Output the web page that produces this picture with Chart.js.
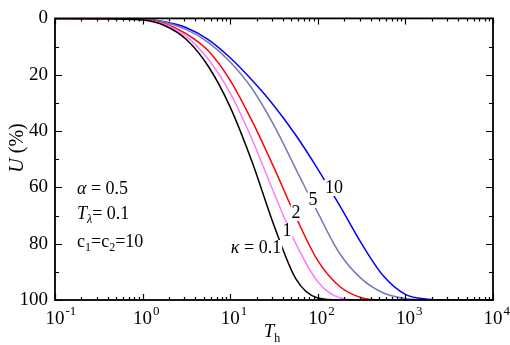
<!DOCTYPE html>
<html>
<head>
<meta charset="utf-8">
<script src="https://cdn.jsdelivr.net/npm/chart.js@4.4.1/dist/chart.umd.min.js"></script>
<style>
  body { margin: 0; background: #fff; }
</style>
</head>
<body>
<canvas id="myChart" width="510" height="345"></canvas>
<script>
// data block
const T = [0.1, 0.316, 1, 1.78, 3.16, 5.62, 10, 17.8, 31.6, 56.2, 100, 178, 316, 562, 1000, 1778, 3162, 10000];
const kappa01 = [0, 0.1, 0.6, 2.5, 7.5, 17, 31.5, 51, 73.5, 92.5, 99.3, 100, 100, 100, 100, 100, 100, 100];
const kappa1 = [0, 0.1, 0.5, 2.1, 6.5, 14.5, 26.5, 43, 62, 80, 93.5, 99.2, 100, 100, 100, 100, 100, 100];
const kappa2 = [0, 0.1, 0.4, 1.8, 5.5, 11.5, 22, 36.5, 53, 70.5, 86, 95.2, 99.2, 100, 100, 100, 100, 100];
const kappa5 = [0, 0.1, 0.3, 1.4, 4, 8.5, 15.5, 25, 38, 53.5, 69, 83.5, 92.5, 97.5, 99.5, 100, 100, 100];
const kappa10 = [0, 0.1, 0.3, 1.2, 3.3, 7.5, 14, 22, 31, 41.5, 53.5, 66.5, 80, 91.5, 98, 99.7, 100, 100];
const yTicks = [0, 20, 40, 60, 80, 100];
const xDecades = [-1, 0, 1, 2, 3, 4];

const serif = "'Liberation Serif', 'Times New Roman', serif";
const pts = arr => arr.map((v, i) => ({ x: T[i], y: v }));

const series = [
    { data: kappa01, color: '#000000' },
    { data: kappa1, color: '#ff78ff' },
    { data: kappa2, color: '#ff0000' },
    { data: kappa5, color: '#7777bb' },
    { data: kappa10, color: '#0000ff' }
];

// draws a row of text pieces, each with own font and vertical offset
function runs(ctx, x, y, parts, align) {
    let w = 0;
    parts.forEach(p => { ctx.font = p.f; w += ctx.measureText(p.t).width; });
    let cx = align === 'center' ? x - w / 2 : x;
    parts.forEach(p => {
        ctx.font = p.f;
        ctx.fillText(p.t, cx, y + (p.dy || 0));
        cx += ctx.measureText(p.t).width;
    });
    return w;
}

const decor = {
    id: 'decor',
    afterDatasetsDraw(chart) {
        const ctx = chart.ctx;
        ctx.save();
        ctx.textBaseline = 'middle';
        ctx.textAlign = 'left';
        // curve labels with white gaps
        const labs = [
            { parts: [{ t: 'κ', f: 'italic 18px ' + serif }, { t: ' = 0.1', f: '18px ' + serif }], x: 256, y: 248 },
            { parts: [{ t: '1', f: '18px ' + serif }], x: 287, y: 231 },
            { parts: [{ t: '2', f: '18px ' + serif }], x: 296, y: 213 },
            { parts: [{ t: '5', f: '18px ' + serif }], x: 313, y: 200 },
            { parts: [{ t: '10', f: '18px ' + serif }], x: 334, y: 188 }
        ];
        labs.forEach(l => {
            let w = 0;
            l.parts.forEach(p => { ctx.font = p.f; w += ctx.measureText(p.t).width; });
            ctx.fillStyle = '#fff';
            ctx.fillRect(l.x - w / 2 - 1, l.y - 8, w + 2, 16);
            ctx.fillStyle = '#000';
            runs(ctx, l.x, l.y, l.parts, 'center');
        });
        ctx.restore();
    },
    afterDraw(chart) {
        const ctx = chart.ctx;
        const a = chart.chartArea;
        const xs = chart.scales.x, ys = chart.scales.y;
        ctx.save();
        ctx.strokeStyle = '#000';
        ctx.fillStyle = '#000';
        // ticks
        ctx.lineWidth = 1.2;
        ctx.beginPath();
        xDecades.forEach(d => {
            for (let k = 1; k <= 9; k++) {
                if (d === 4 && k > 1) break;
                const px = Math.round(xs.getPixelForValue(k * Math.pow(10, d))) + 0.5;
                const len = k === 1 ? 6 : 3;
                ctx.moveTo(px, a.bottom); ctx.lineTo(px, a.bottom - len);
                ctx.moveTo(px, a.top); ctx.lineTo(px, a.top + len);
            }
        });
        for (let v = 0; v <= 100; v += 10) {
            const py = Math.round(ys.getPixelForValue(v)) + 0.5;
            const len = v % 20 === 0 ? 7 : 4;
            ctx.moveTo(a.left, py); ctx.lineTo(a.left + len, py);
            ctx.moveTo(a.right, py); ctx.lineTo(a.right - len, py);
        }
        ctx.stroke();
        // frame
        ctx.lineWidth = 1.8;
        ctx.strokeRect(a.left, a.top, a.right - a.left, a.bottom - a.top);

        // x tick labels 10^n
        ctx.textBaseline = 'alphabetic';
        ctx.textAlign = 'left';
        xDecades.forEach(d => {
            const px = xs.getPixelForValue(Math.pow(10, d));
            ctx.font = '19px ' + serif;
            const w10 = ctx.measureText('10').width;
            const ex = d < 0 ? '-' + (-d) : String(d);
            ctx.fillText('10', px - w10 / 2, 324);
            ctx.font = '13px ' + serif;
            ctx.fillText(ex, px + w10 / 2 + 1, 315);
        });
        // x title
        runs(ctx, 272, 337, [
            { t: 'T', f: 'italic 19px ' + serif },
            { t: 'h', f: '12px ' + serif, dy: 5 }
        ], 'center');
        // y title
        ctx.save();
        ctx.translate(23, 148);
        ctx.rotate(-Math.PI / 2);
        runs(ctx, 0, 0, [
            { t: 'U', f: 'italic 20px ' + serif },
            { t: ' (%)', f: '20px ' + serif }
        ], 'center');
        ctx.restore();
        // parameter annotations
        runs(ctx, 77, 194, [
            { t: 'α', f: 'italic 18px ' + serif },
            { t: ' = 0.5', f: '18px ' + serif }
        ]);
        runs(ctx, 77, 219, [
            { t: 'T', f: 'italic 18px ' + serif },
            { t: 'λ', f: 'italic 12px ' + serif, dy: 4 },
            { t: '= 0.1', f: '18px ' + serif }
        ]);
        runs(ctx, 77, 247, [
            { t: 'c', f: '18px ' + serif },
            { t: '1', f: '12px ' + serif, dy: 4 },
            { t: '=c', f: '18px ' + serif },
            { t: '2', f: '12px ' + serif, dy: 4 },
            { t: '=10', f: '18px ' + serif }
        ]);
        ctx.restore();
    }
};

// config block
const config = {
    type: 'line',
    data: {
        datasets: series.map(s => ({
            data: pts(s.data),
            borderColor: s.color,
            borderWidth: 1.5,
            pointRadius: 0,
            cubicInterpolationMode: 'monotone',
            fill: false
        }))
    },
    options: {
        responsive: false,
        animation: false,
        layout: { padding: { left: 0, top: 10, right: 17, bottom: 0 } },
        scales: {
            x: {
                type: 'logarithmic',
                min: 0.1,
                max: 10000,
                grid: { display: false },
                border: { display: false },
                ticks: { display: false },
                afterFit: s => { s.height = 45; }
            },
            y: {
                reverse: true,
                min: 0,
                max: 100,
                grid: { display: false, drawTicks: false },
                border: { display: false },
                afterBuildTicks: s => { s.ticks = yTicks.map(v => ({ value: v })); },
                ticks: {
                    color: '#000',
                    padding: 7,
                    font: { family: serif, size: 19 }
                },
                afterFit: s => { s.width = 55; }
            }
        },
        plugins: {
            legend: { display: false },
            tooltip: { enabled: false }
        }
    },
    plugins: [decor]
};

// init render block
const myChart = new Chart(document.getElementById('myChart'), config);
</script>
</body>
</html>
